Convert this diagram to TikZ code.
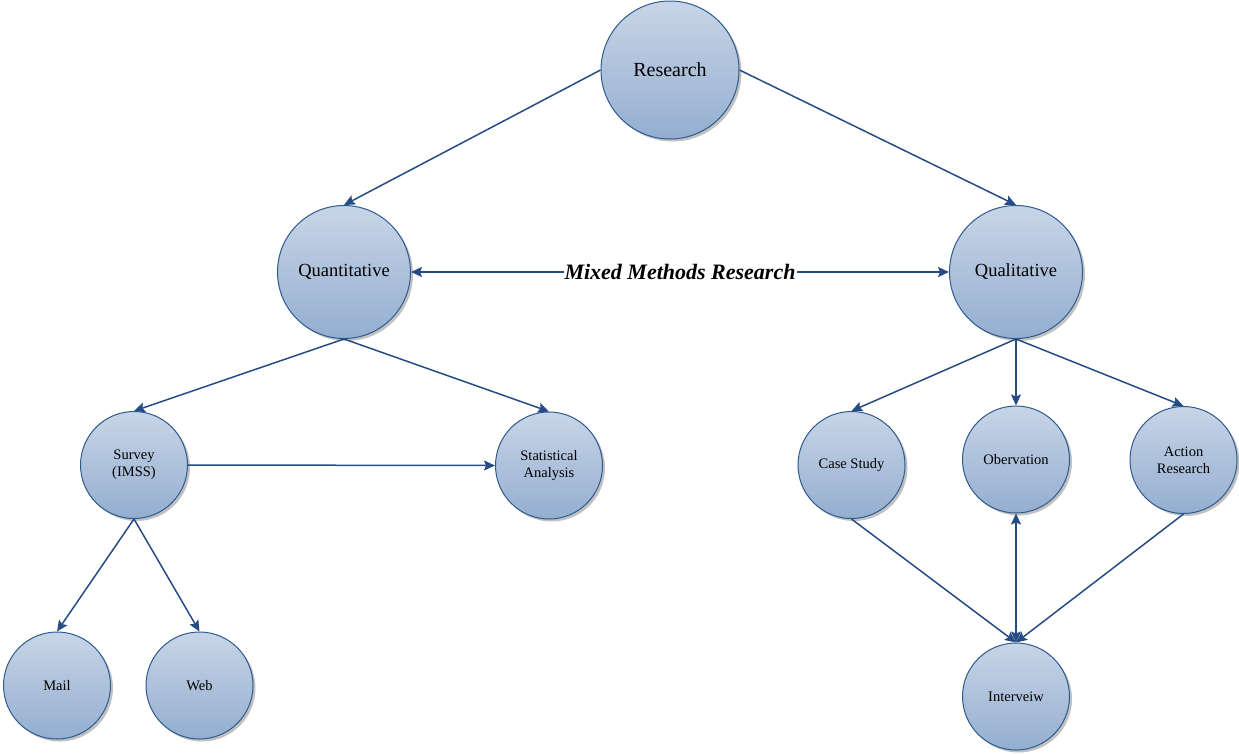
\documentclass[tikz,border=0pt]{standalone}
\usepackage{fontspec}
\setmainfont{Liberation Serif}
\usetikzlibrary{arrows.meta,shadows}
\definecolor{rimblue}{HTML}{2E5B8E}
\definecolor{linkblue}{HTML}{264C85}
\definecolor{topfill}{HTML}{C8D5E7}
\definecolor{botfill}{HTML}{94AED0}
\tikzset{
  ball/.style={circle, draw=rimblue, line width=1pt, top color=topfill, bottom color=botfill,
    align=center, inner sep=0pt, text=black,
    drop shadow={shadow xshift=2.5pt, shadow yshift=-2.5pt, opacity=0.35, fill=black!70}},
  bigball/.style={ball, minimum size=138pt, font=\fontsize{20}{22}\selectfont},
  midball/.style={ball, minimum size=133pt, font=\fontsize{18.5}{21}\selectfont},
  smallball/.style={ball, minimum size=107pt, font=\fontsize{14.5}{17}\selectfont},
  tip/.style={Stealth[length=11pt,width=10pt,inset=2pt]},
  link/.style={draw=linkblue, line width=1.5pt, -{Stealth[length=11pt,width=10pt,inset=2pt]}},
  twolink/.style={draw=linkblue, line width=1.5pt,
    {Stealth[length=11pt,width=10pt,inset=2pt]}-{Stealth[length=11pt,width=10pt,inset=2pt]}}
}
\begin{document}
\begin{tikzpicture}[x=1pt,y=-1pt]
  \useasboundingbox (0,0) rectangle (1239,753);

  % nodes
  \node[bigball] (res) at (670,70) {Research};
  \node[midball] (quan) at (344,272) {Quantitative};
  \node[midball] (qual) at (1016,272) {Qualitative};
  \node[smallball] (survey) at (134,465) {Survey\\(IMSS)};
  \node[smallball] (stat) at (549,465.5) {Statistical\\Analysis};
  \node[smallball] (case) at (851.5,465) {Case Study};
  \node[smallball] (obs) at (1016,459.5) {Obervation};
  \node[smallball] (action) at (1183.5,460) {Action\\Research};
  \node[smallball] (mail) at (57,685.5) {Mail};
  \node[smallball] (web) at (199.5,685.5) {Web};
  \node[smallball] (inter) at (1016,696.5) {Interveiw};

  % connectors
  \draw[link] (res.west) -- (quan.north);
  \draw[link] (res.east) -- (qual.north);
  \draw[twolink] (quan.east) -- node[pos=0.5, fill=white, inner sep=1pt,
    font=\fontsize{22}{24}\selectfont\bfseries\itshape] {Mixed Methods Research} (qual.west);
  \draw[link] (quan.south) -- (survey.north);
  \draw[link] (quan.south) -- (stat.north);
  \draw[link] (survey.east) -- (stat.west);
  \draw[link] (survey.south) -- (mail.north);
  \draw[link] (survey.south) -- (web.north);
  \draw[link] (qual.south) -- (case.north);
  \draw[link] (qual.south) -- (obs.north);
  \draw[link] (qual.south) -- (action.north);
  \draw[link] (case.south) -- (inter.north);
  \draw[link] (action.south) -- (inter.north);
  \draw[twolink] (obs.south) -- (inter.north);
\end{tikzpicture}
\end{document}
